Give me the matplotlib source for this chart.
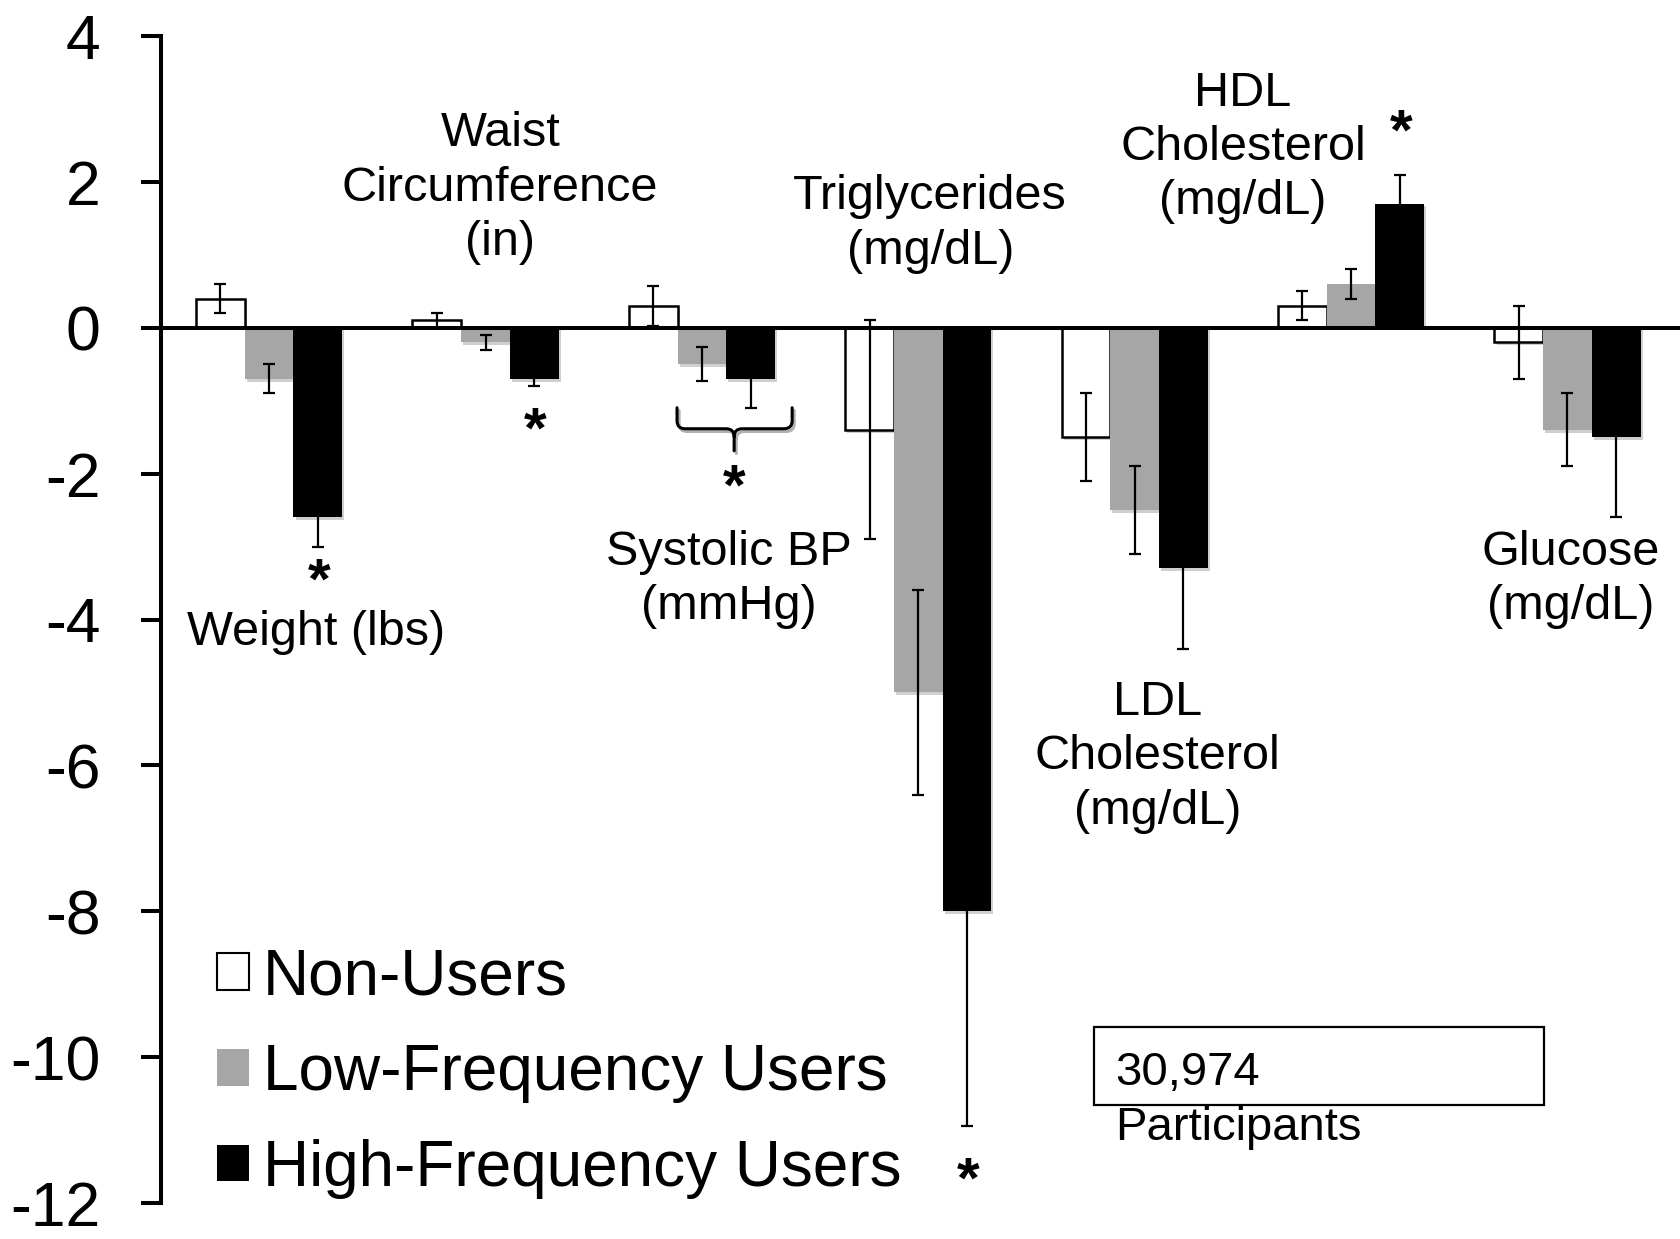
import matplotlib
matplotlib.use("Agg")
import matplotlib.pyplot as plt
import matplotlib.patheffects as pe
from matplotlib.patches import Patch, Rectangle
from matplotlib.path import Path
from matplotlib.patches import PathPatch
import numpy as np

plt.rcParams['font.family'] = ['Liberation Sans', 'DejaVu Sans']
plt.rcParams['axes.unicode_minus'] = False

# ---- data ----
categories = ['Weight (lbs)', 'Waist\nCircumference\n(in)', 'Systolic BP\n(mmHg)',
              'Triglycerides\n(mg/dL)', 'LDL\nCholesterol\n(mg/dL)',
              'HDL\nCholesterol\n(mg/dL)', 'Glucose\n(mg/dL)']
series_names = ['Non-Users', 'Low-Frequency Users', 'High-Frequency Users']
non_users = [0.4, 0.1, 0.3, -1.4, -1.5, 0.3, -0.2]
non_users_err = [0.2, 0.1, 0.27, 1.5, 0.6, 0.2, 0.5]
low_freq = [-0.7, -0.2, -0.5, -5.0, -2.5, 0.6, -1.4]
low_freq_err = [0.2, 0.1, 0.23, 1.4, 0.6, 0.2, 0.5]
high_freq = [-2.6, -0.7, -0.7, -8.0, -3.3, 1.7, -1.5]
high_freq_err = [0.4, 0.1, 0.4, 2.95, 1.1, 0.4, 1.1]
yticks = [4, 2, 0, -2, -4, -6, -8, -10, -12]
participants_lines = ['30,974', 'Participants']

# label anchor positions (category-axis units, value units)
label_pos = [(0.217, -4.18), (1.068, 1.91), (2.124, -3.45), (3.055, 1.42),
             (4.104, -5.88), (4.50, 2.47), (6.016, -3.45)]
# significance asterisks (category-axis units, value units)
star_pos = [(0.23, -3.32), (1.229, -1.25), (2.149, -2.04), (3.232, -11.54), (5.232, 2.83)]

fig = plt.figure(figsize=(16.8, 12.39), dpi=100)
ax = fig.add_axes([0.0958, 0.029, 0.9042, 0.942])

x = np.arange(len(categories))
w = 0.225
shadow = [pe.SimplePatchShadow(offset=(1.5, -2), shadow_rgbFace='#777777', alpha=0.35), pe.Normal()]

colors = ['white', '#A6A6A6', 'black']
edges = ['black', '#A6A6A6', 'black']
lws = [1.8, 0, 0]
vals = [non_users, low_freq, high_freq]
errs = [non_users_err, low_freq_err, high_freq_err]
for i, (v, e) in enumerate(zip(vals, errs)):
    xs = x + (i - 1) * w
    bars = ax.bar(xs, v, width=w, color=colors[i], edgecolor=edges[i], linewidth=lws[i], zorder=2)
    for b in bars:
        b.set_path_effects(shadow)
    ax.errorbar(xs, v, yerr=e, fmt='none', ecolor='black', elinewidth=1.6,
                capsize=4, capthick=1.6, zorder=3)

ax.axhline(0, color='black', lw=2.9, zorder=3.5)

ax.set_xlim(-0.5, 6.52)
ax.set_ylim(-12, 4)
ax.set_yticks(yticks)
ax.set_yticklabels([str(t) for t in yticks], fontsize=45)
ax.tick_params(axis='y', direction='out', length=14.4, width=2.9, pad=29)
ax.set_xticks([])
for s in ['top', 'right', 'bottom']:
    ax.spines[s].set_visible(False)
ax.spines['left'].set_linewidth(2.9)

for name, (lx, ly) in zip(categories, label_pos):
    ax.text(lx, ly, name, ha='center', va='center', fontsize=35, linespacing=1.27)

for sx, sy in star_pos:
    ax.annotate('*', (sx, sy), xytext=(0, -20.5), textcoords='offset points',
                ha='center', va='baseline', fontsize=42, fontweight='bold')

# brace under systolic BP low/high bars
L, R, M = 1.885, 2.417, 2.149
yT, yH, yB = -1.097, -1.385, -1.687
r, dx = 0.11, 0.037
verts = [(L, yT), (L, yH + r), (L, yH), (L + dx, yH), (M - dx, yH), (M, yH), (M, yH - r), (M, yB),
         (R, yT), (R, yH + r), (R, yH), (R - dx, yH), (M + dx, yH), (M, yH), (M, yH - r)]
codes = [Path.MOVETO, Path.LINETO, Path.CURVE3, Path.CURVE3, Path.LINETO, Path.CURVE3, Path.CURVE3, Path.LINETO,
         Path.MOVETO, Path.LINETO, Path.CURVE3, Path.CURVE3, Path.LINETO, Path.CURVE3, Path.CURVE3]
brace = PathPatch(Path(verts, codes), facecolor='none', edgecolor='black', lw=2.2, zorder=4,
                  capstyle='round', joinstyle='round')
brace.set_path_effects([pe.SimpleLineShadow(offset=(1.5, -2), alpha=0.3), pe.Normal()])
ax.add_patch(brace)

# legend
handles = [Patch(facecolor='white', edgecolor='black', linewidth=1.5),
           Patch(facecolor='#A6A6A6', edgecolor='none'),
           Patch(facecolor='black', edgecolor='none')]
ax.legend(handles, series_names, loc='upper left', bbox_to_anchor=(0.129, 0.2355),
          bbox_transform=fig.transFigure, frameon=False, fontsize=46,
          handlelength=0.5, handleheight=0.5, handletextpad=0.22, labelspacing=0.56,
          borderpad=0, borderaxespad=0)

# participants box
fig.patches.append(Rectangle((1094 / 1680, 1 - 1105 / 1239), 450 / 1680, 78 / 1239,
                             transform=fig.transFigure, facecolor='white', edgecolor='black',
                             lw=1.6, zorder=5))
fig.text(1115 / 1680, 1 - 1085 / 1239, participants_lines[0], ha='left', va='baseline',
         fontsize=34, zorder=6)
fig.text(1115 / 1680, 1 - 1140 / 1239, participants_lines[1], ha='left', va='baseline',
         fontsize=34, zorder=6)

fig.savefig('out.png', dpi=100)
